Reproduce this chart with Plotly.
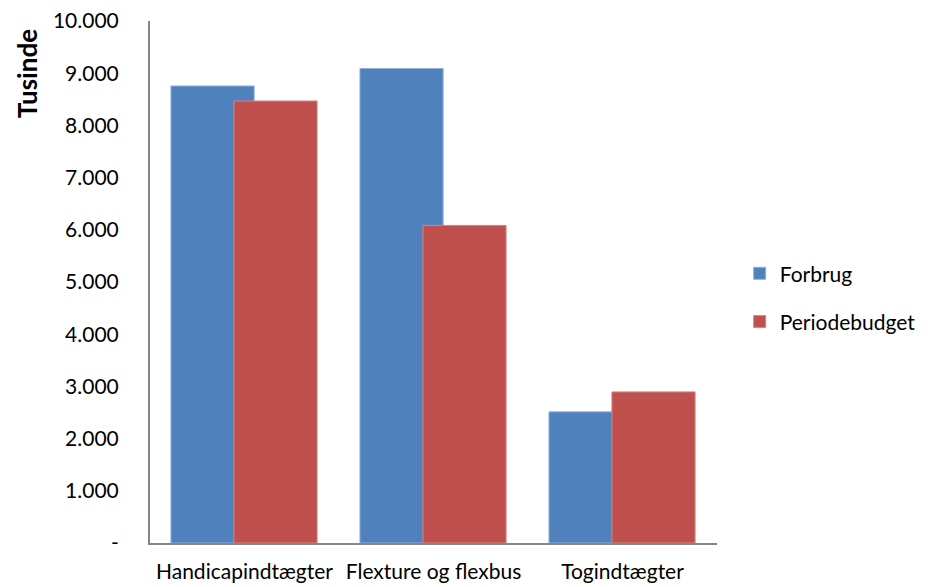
import plotly.graph_objects as go

categories = ["Handicapindtægter", "Flexture og flexbus", "Togindtægter"]
forbrug = [8755, 9089, 2512]
periodebudget = [8468, 6084, 2895]
tick_vals = [0, 1000, 2000, 3000, 4000, 5000, 6000, 7000, 8000, 9000, 10000]
tick_text = ["-", "1.000", "2.000", "3.000", "4.000", "5.000", "6.000", "7.000", "8.000", "9.000", "10.000"]

FONT = "Lato, Carlito, Calibri, sans-serif"

fig = go.Figure()
fig.add_trace(go.Bar(
    x=categories, y=forbrug, name="Forbrug",
    marker=dict(color="#4F81BD", line=dict(color="#8EAEDB", width=1)),
    width=0.44, offset=-0.389, legendgroup="a",
))
fig.add_trace(go.Bar(
    x=categories, y=periodebudget, name="Periodebudget",
    marker=dict(color="#C0504D", line=dict(color="#D08785", width=1)),
    width=0.44, offset=-0.056, legendgroup="b",
))

# page body has an 8px margin, so the figure is sized to the remaining area
fig.update_layout(
    width=920, height=579,
    margin=dict(l=142, r=211, t=13, b=44, autoexpand=False),
    barmode="overlay",
    plot_bgcolor="white", paper_bgcolor="white",
    font=dict(family=FONT, size=21, color="black"),
    legend=dict(x=1.04, y=0.47, xanchor="left", yanchor="middle",
                traceorder="grouped", tracegroupgap=18,
                font=dict(size=21), itemwidth=30),
    showlegend=True,
)
fig.update_xaxes(
    showline=True, linecolor="#868686", linewidth=2,
    showgrid=False, ticks="", ticklabelstandoff=9, automargin=False,
)
fig.update_yaxes(
    range=[0, 10000], tickvals=tick_vals, ticktext=tick_text,
    showline=True, linecolor="#868686", linewidth=2,
    showgrid=False, ticks="", ticklabelstandoff=25, zeroline=False,
    automargin=False, ticklabeloverflow="allow",
)
fig.add_annotation(
    text="<b>Tusinde</b>", xref="paper", yref="paper",
    x=-0.217, y=0.90, textangle=-90, showarrow=False,
    font=dict(family=FONT, size=26), xanchor="center", yanchor="middle",
)
fig.write_html("out.html")
